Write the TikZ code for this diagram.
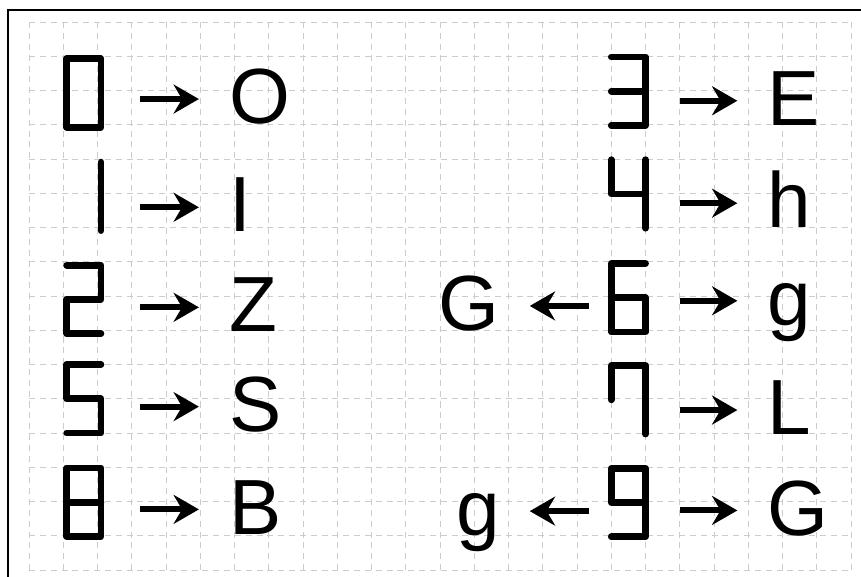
\documentclass[tikz,border=0pt]{standalone}
\usepackage{fontspec}
\setmainfont{Liberation Sans}
\usetikzlibrary{arrows.meta}

\begin{document}
\begin{tikzpicture}[
  gridline/.style={gray!40, line width=0.8pt, dash pattern=on 5pt off 4pt},
  digitbox/.style={minimum width=1cm, minimum height=2cm, inner sep=0pt, outer sep=0pt},
  seg/.style={line width=5.6pt, line cap=round, line join=round},
  letter/.style={font=\fontsize{65}{65}\selectfont, inner sep=0pt, outer sep=0pt,
    text height=1.44cm, text depth=0pt},
  maparrow/.style={-{Stealth[length=21pt, width=24pt, inset=7pt]}, line width=5pt,
    shorten >=0.88cm}
]
\useasboundingbox (-0.847,0.642) rectangle (24.29,-16.175);
\fill[white] (-0.847,0.642) rectangle (24.29,-16.175);
\draw[gridline] (0,0) grid (24,-16);
\draw[line width=1.6pt] (-0.613,0.35) rectangle (25,-17);

% left column
\node[digitbox] (d0) at (1.6,-2.07) {};
\node[digitbox] (d1) at (1.6,-5.09) {};
\node[digitbox] (d2) at (1.6,-8.1) {};
\node[digitbox] (d5) at (1.6,-11.0) {};
\node[digitbox] (d8) at (1.6,-14.02) {};

\draw[seg] (d0.north west) rectangle (d0.south east);
\draw[seg] (d1.north east) -- (d1.south east);
\draw[seg] (d2.north west) -- (d2.north east) -- (d2.east) -- (d2.west) -- (d2.south west) -- (d2.south east);
\draw[seg] (d5.north east) -- (d5.north west) -- (d5.west) -- (d5.east) -- (d5.south east) -- (d5.south west);
\draw[seg] (d8.north west) rectangle (d8.south east);
\draw[seg] (d8.west) -- (d8.east);

\node[letter, anchor=west] (l0) at (5.84,-2.25) {O};
\node[letter, anchor=west] (l1) at (5.84,-5.41) {I};
\node[letter, anchor=west] (l2) at (5.84,-8.33) {Z};
\node[letter, anchor=west] (l5) at (5.84,-11.23) {S};
\node[letter, anchor=west] (l8) at (5.84,-14.23) {B};

\draw[maparrow, shorten <=1.15cm] (d0.east |- l0.west) -- (l0.west);
\draw[maparrow, shorten <=1.15cm] (d1.east |- l1.west) -- (l1.west);
\draw[maparrow, shorten <=1.15cm] (d2.east |- l2.west) -- (l2.west);
\draw[maparrow, shorten <=1.15cm] (d5.east |- l5.west) -- (l5.west);
\draw[maparrow, shorten <=1.15cm] (d8.east |- l8.west) -- (l8.west);

% right column
\node[digitbox] (d3) at (17.5,-2.02) {};
\node[digitbox] (d4) at (17.5,-5.02) {};
\node[digitbox] (d6) at (17.5,-8.05) {};
\node[digitbox] (d7) at (17.5,-11.03) {};
\node[digitbox] (d9) at (17.5,-14.03) {};

\draw[seg] (d3.north west) -- (d3.north east) -- (d3.south east) -- (d3.south west);
\draw[seg] (d3.west) -- (d3.east);
\draw[seg] (d4.north west) -- (d4.west) -- (d4.east);
\draw[seg] (d4.north east) -- (d4.south east);
\draw[seg] (d6.north east) -- (d6.north west) -- (d6.south west) -- (d6.south east) -- (d6.east) -- (d6.west);
\draw[seg] (d7.west) -- (d7.north west) -- (d7.north east) -- (d7.south east);
\draw[seg] (d9.east) -- (d9.west) -- (d9.north west) -- (d9.north east) -- (d9.south east) -- (d9.south west);

\node[letter, anchor=west] (l3) at (21.56,-2.3) {E};
\node[letter, anchor=west] (l4) at (21.56,-5.29) {h};
\node[letter, anchor=west] (l6b) at (21.56,-8.14) {g};
\node[letter, anchor=east] (l6a) at (13.74,-8.29) {G};
\node[letter, anchor=west] (l7) at (21.56,-11.33) {L};
\node[letter, anchor=west] (l9b) at (21.56,-14.26) {G};
\node[letter, anchor=east] (l9a) at (13.74,-14.28) {g};

\draw[maparrow, shorten <=1cm] (d3.east |- l3.west) -- (l3.west);
\draw[maparrow, shorten <=1cm] (d4.east |- l4.west) -- (l4.west);
\draw[maparrow, shorten <=1cm] (d6.east |- l6b.west) -- (l6b.west);
\draw[maparrow, shorten <=0.66cm] (d6.west |- l6a.east) -- (l6a.east);
\draw[maparrow, shorten <=1cm] (d7.east |- l7.west) -- (l7.west);
\draw[maparrow, shorten <=1cm] (d9.east |- l9b.west) -- (l9b.west);
\draw[maparrow, shorten <=0.66cm] (d9.west |- l9a.east) -- (l9a.east);
\end{tikzpicture}
\end{document}
